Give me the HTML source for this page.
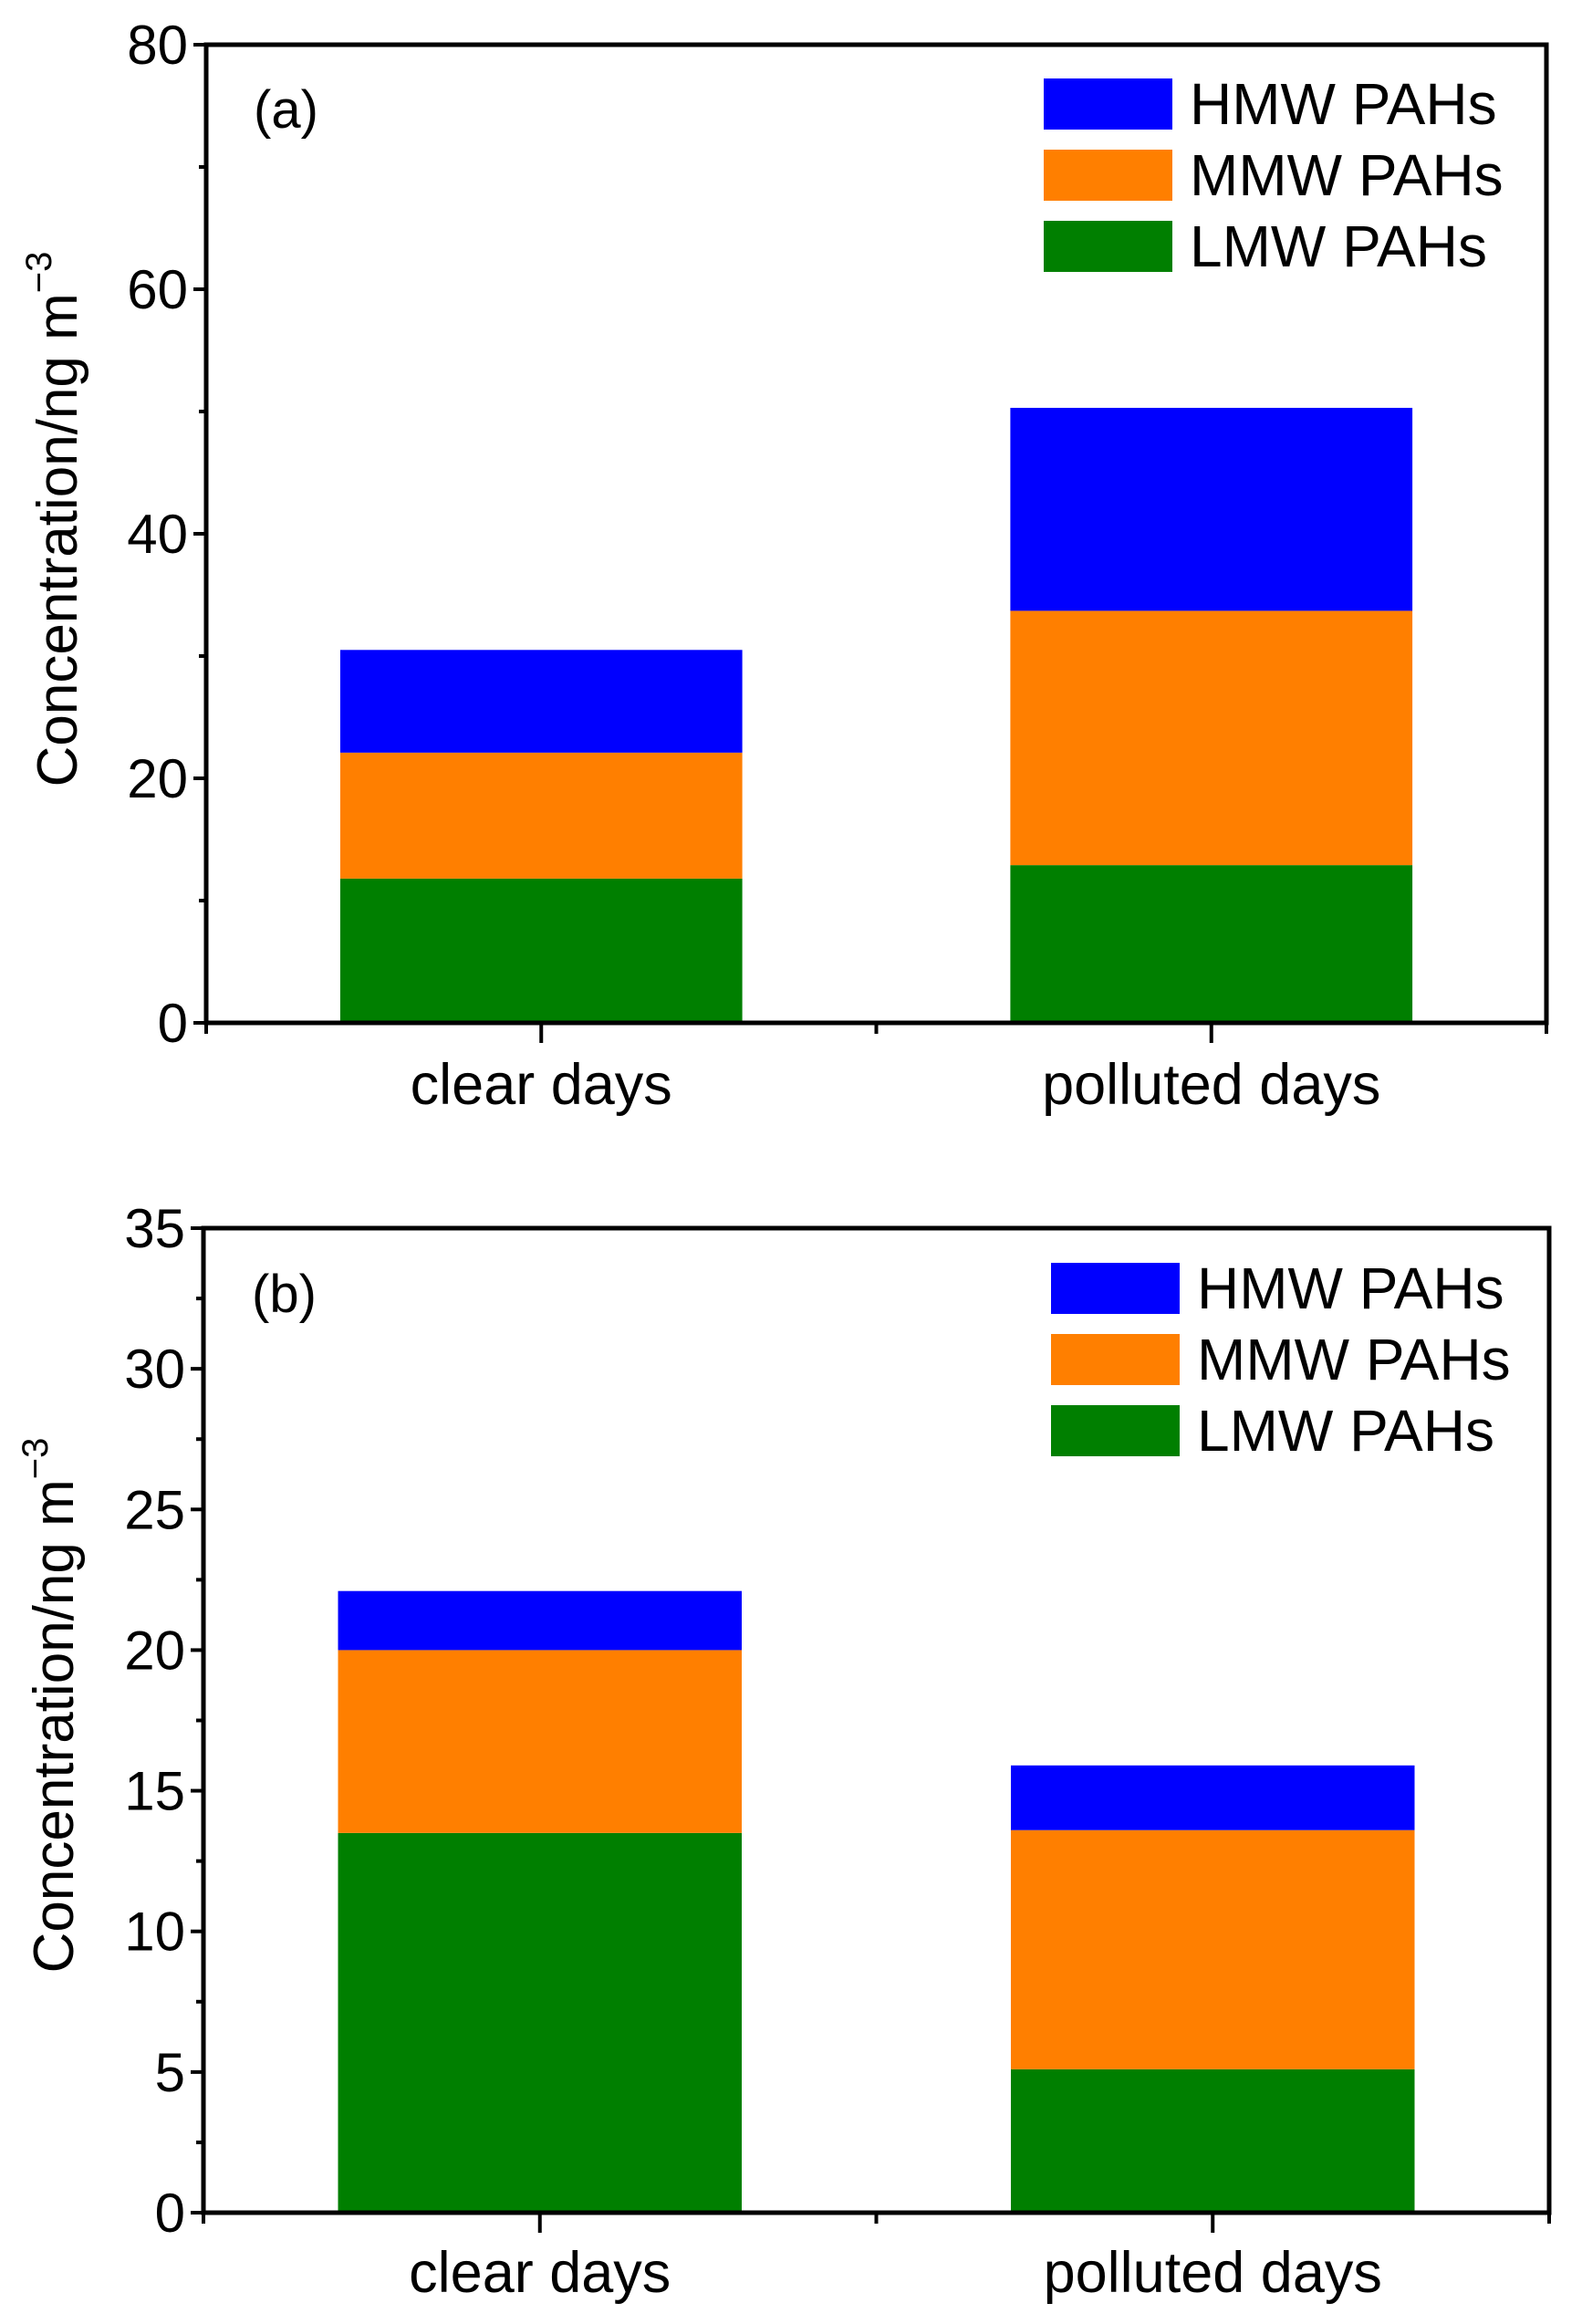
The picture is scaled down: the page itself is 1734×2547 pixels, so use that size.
<!DOCTYPE html>
<html><head><meta charset="utf-8"><style>
html,body{margin:0;padding:0;background:#fff}
svg{display:block}
text{font-family:"Liberation Sans",sans-serif;fill:#000}
</style></head><body>
<svg id="fig" width="1734" height="2547" viewBox="0 0 1734 2547" xmlns="http://www.w3.org/2000/svg"></svg>
<script>
const categories = ["clear days", "polluted days"];
const seriesNames = ["LMW PAHs", "MMW PAHs", "HMW PAHs"];
const seriesColors = ["#007f00", "#ff7f00", "#0000ff"];
const aLMW = [11.8, 12.9];
const aMMW = [10.3, 20.8];
const aHMW = [8.4, 16.6];
const bLMW = [13.5, 5.1];
const bMMW = [6.5, 8.5];
const bHMW = [2.1, 2.3];
const aTicks = [0, 20, 40, 60, 80];
const bTicks = [0, 5, 10, 15, 20, 25, 30, 35];

const NS = "http://www.w3.org/2000/svg";
const svg = document.getElementById("fig");
function mk(tag, attrs, parent, txt) {
  const e = document.createElementNS(NS, tag);
  for (const k in attrs) e.setAttribute(k, attrs[k]);
  if (txt !== undefined) e.textContent = txt;
  (parent || svg).appendChild(e);
  return e;
}

function panel(cfg) {
  const g = mk("g", {});
  
  
  const L = cfg.left, R = cfg.right, T = cfg.top, B = cfg.bottom;
  const ymax = cfg.ticks[cfg.ticks.length - 1];
  const y = v => B - (v / ymax) * (B - T);
  const xc = i => L + (R - L) * (0.25 + 0.5 * i);
  const bw = (R - L) * 0.3;
  const stacks = [cfg.lmw, cfg.mmw, cfg.hmw];
  categories.forEach((c, i) => {
    let base = 0;
    stacks.forEach((s, k) => {
      const r = mk("rect", {x: xc(i) - bw / 2, y: y(base + s[i]), width: bw, height: y(base) - y(base + s[i]), fill: seriesColors[k]}, g);
      
      
      base += s[i];
    });
  });
  const fr = mk("rect", {x: L, y: T, width: R - L, height: B - T, fill: "none", stroke: "#000", "stroke-width": 5}, g);
  
  
  const step = cfg.ticks[1] - cfg.ticks[0];
  cfg.ticks.forEach((t, j) => {
    mk("line", {x1: L - 14, x2: L, y1: y(t), y2: y(t), stroke: "#000", "stroke-width": 4}, g);
    if (j < cfg.ticks.length - 1) mk("line", {x1: L - 8, x2: L, y1: y(t + step / 2), y2: y(t + step / 2), stroke: "#000", "stroke-width": 4}, g);
    const tl = mk("text", {x: L - 20, y: y(t) + 21, "text-anchor": "end", "font-size": 60}, g, String(t));
    
    
  });
  [0, 0.5, 1].forEach(f => mk("line", {x1: L + (R - L) * f, x2: L + (R - L) * f, y1: B, y2: B + 12, stroke: "#000", "stroke-width": 4}, g));
  categories.forEach((c, i) => {
    mk("line", {x1: xc(i), x2: xc(i), y1: B, y2: B + 22, stroke: "#000", "stroke-width": 4}, g);
    const xl = mk("text", {x: xc(i), y: cfg.xlabY, "text-anchor": "middle", "font-size": 63}, g, c);
    
    
  });
  const yt = mk("text", {transform: "translate(" + cfg.ytX + "," + cfg.ytY + ") rotate(-90)", "text-anchor": "middle", "font-size": 62}, g);
  
  
  mk("tspan", {}, yt, "Concentration/ng m");
  mk("tspan", {dy: -28, "font-size": 40}, yt, "\u22123");
  const pl = mk("text", {x: cfg.lblX, y: cfg.lblY, "font-size": 58}, g, cfg.label);
  
  
  [2, 1, 0].forEach((k, r) => {
    const sy = cfg.legY + r * cfg.legStep;
    const sw = mk("rect", {x: cfg.legX, y: sy, width: 141, height: 56, fill: seriesColors[k]}, g);
    
    
    const lt = mk("text", {x: cfg.legX + 160, y: sy + 50, "font-size": 64}, g, seriesNames[k]);
    
    
  });
}

panel({name: "panel-a", left: 226, right: 1695, top: 49, bottom: 1121, ticks: aTicks,
  lmw: aLMW, mmw: aMMW, hmw: aHMW, xlabY: 1210, ytX: 84, ytY: 569, label: "(a)", lblX: 278, lblY: 140,
  legX: 1144, legY: 86, legStep: 78});
panel({name: "panel-b", left: 223, right: 1698, top: 1346, bottom: 2425, ticks: bTicks,
  lmw: bLMW, mmw: bMMW, hmw: bHMW, xlabY: 2512, ytX: 80, ytY: 1869, label: "(b)", lblX: 276, lblY: 1438,
  legX: 1152, legY: 1384, legStep: 78});
</script>
</body></html>
